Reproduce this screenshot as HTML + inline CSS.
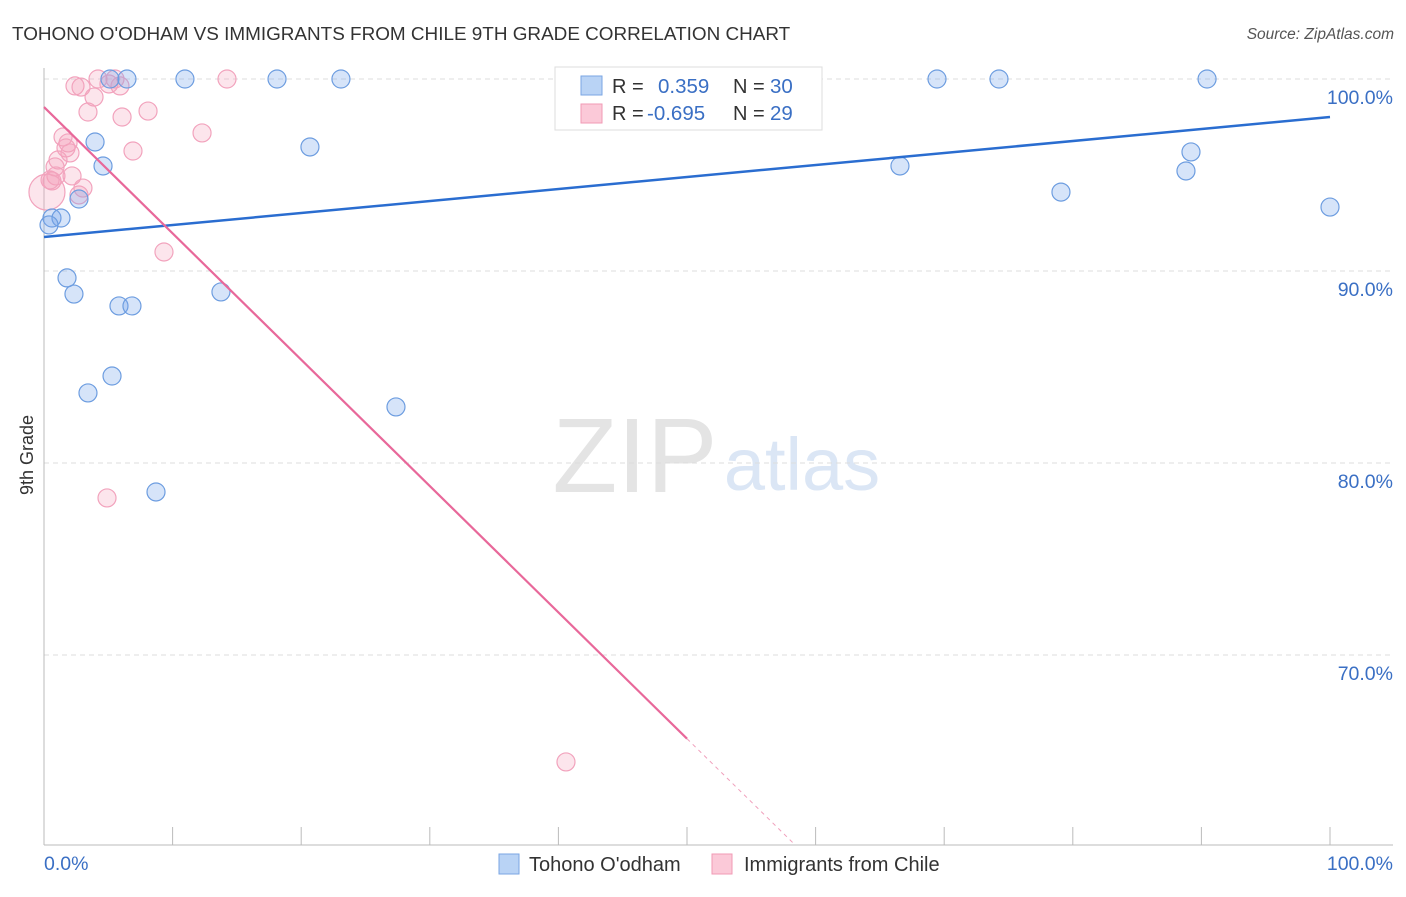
<!DOCTYPE html>
<html><head><meta charset="utf-8"><style>
body{margin:0;background:#fff;font-family:"Liberation Sans",sans-serif}
svg text{font-family:"Liberation Sans",sans-serif}
</style></head><body>
<svg id="c" width="1406" height="892" xmlns="http://www.w3.org/2000/svg">
<text x="12" y="40" font-size="18.9" fill="#333">TOHONO O'ODHAM VS IMMIGRANTS FROM CHILE 9TH GRADE CORRELATION CHART</text>
<text x="1394" y="39" font-size="15.5" fill="#555" font-style="italic" text-anchor="end">Source: ZipAtlas.com</text>
<text transform="translate(33,455) rotate(-90)" font-size="18" fill="#333" text-anchor="middle">9th Grade</text>
<g>
<text x="635" y="492" font-size="106" fill="#e4e4e4" font-family="Liberation Serif" text-anchor="middle">ZIP</text>
<text x="802" y="490" font-size="74" fill="#dbe6f5" text-anchor="middle">atlas</text>
</g>
<g id="grid"></g><g id="axes"></g><g id="marks"></g>
<g>
<rect x="555" y="67" width="267" height="63" fill="#fff" stroke="#ddd"/>
<rect x="581" y="76" width="21" height="19" fill="#b9d3f5" stroke="#7aa6e3"/>
<rect x="581" y="104" width="21" height="19" fill="#fbc9d8" stroke="#f09ab5"/>
<text x="612" y="93" font-size="20" fill="#333">R = </text><text x="658" y="93" font-size="20.5" fill="#3a6fc4">0.359</text>
<text x="733" y="93" font-size="20" fill="#333">N = </text><text x="770" y="93" font-size="20.5" fill="#3a6fc4">30</text>
<text x="612" y="120" font-size="20" fill="#333">R = </text><text x="647" y="120" font-size="20.5" fill="#3a6fc4">-0.695</text>
<text x="733" y="120" font-size="20" fill="#333">N = </text><text x="770" y="120" font-size="20.5" fill="#3a6fc4">29</text>
</g>
<g>
<rect x="499" y="854" width="20" height="20" fill="#b9d3f5" stroke="#7aa6e3"/>
<text x="529" y="871" font-size="20" fill="#333">Tohono O'odham</text>
<rect x="712" y="854" width="20" height="20" fill="#fbc9d8" stroke="#f09ab5"/>
<text x="744" y="871" font-size="20" fill="#333">Immigrants from Chile</text>
</g>
</svg>
<script>
const blueX=[5.13,6.45,10.96,18.12,23.09,47.67,69.44,74.26,90.44,3.97,20.68,4.59,2.72,0.62,1.32,0.39,1.79,2.33,13.76,5.83,6.84,5.29,3.42,27.37,8.71,66.56,79.08,89.19,88.80,100];
const blueY=[100,100,100,100,100,100,100,100,100,96.72,96.46,95.47,93.75,92.76,92.76,92.40,89.64,88.80,88.91,88.18,88.18,84.53,83.65,82.92,78.49,95.47,94.11,96.20,95.21,93.33];
const pinkX=[4.20,5.52,14.23,2.41,2.88,5.05,5.91,3.89,3.42,6.07,8.09,12.29,6.92,1.48,1.87,1.71,2.02,1.09,0.86,0.93,0.62,2.18,3.03,2.72,0.23,9.33,4.90,40.59,0.47];
const pinkY=[100,100,100,99.64,99.58,99.74,99.64,99.06,98.28,98.02,98.33,97.19,96.25,96.98,96.67,96.41,96.15,95.78,95.42,94.95,94.69,94.95,94.32,93.96,94.11,90.99,78.18,64.43,94.74];
const yTicks=[100,90,80,70];
const yTickLabels=["100.0%","90.0%","80.0%","70.0%"];
const xTicks=[0,10,20,30,40,50,60,70,80,90,100];
const blueFit=[91.77,98.02];
const pinkFit=[98.54,-0.658];
const xPx=v=>44+v*12.86, yPx=v=>79+(100-v)*19.2;
const NS="http://www.w3.org/2000/svg";
function mk(p,t,a){const e=document.createElementNS(NS,t);for(const k in a)e.setAttribute(k,a[k]);document.getElementById(p).appendChild(e);return e;}
yTicks.forEach((v,i)=>{
 const g=mk('grid','line',{x1:44,x2:1393,y1:yPx(v),y2:yPx(v),stroke:'#ddd','stroke-dasharray':'5,4'});
 
 
 const t=mk('axes','text',{x:1393,y:yPx(v)+25,'font-size':19.5,fill:'#3a6fc4','text-anchor':'end'});
 t.textContent=yTickLabels[i];
 
 
});
let a=mk('axes','line',{x1:44,x2:44,y1:68,y2:845,stroke:'#bbb'});


a=mk('axes','line',{x1:44,x2:1393,y1:845,y2:845,stroke:'#bbb'});


xTicks.forEach(v=>{const t=mk('axes','line',{x1:xPx(v),x2:xPx(v),y1:827,y2:845,stroke:'#bbb'});
 
 });
let t=mk('axes','text',{x:44,y:870,'font-size':19.5,fill:'#3a6fc4'});t.textContent='0.0%';


t=mk('axes','text',{x:1393,y:870,'font-size':19.5,fill:'#3a6fc4','text-anchor':'end'});t.textContent='100.0%';


pinkX.forEach((x,i)=>{const c=mk('marks','circle',{cx:xPx(x),cy:yPx(pinkY[i]),r:i==24?18:9,fill:'rgba(245,160,188,0.28)',stroke:'#f2a3bd','stroke-width':1.2});
 
 });
blueX.forEach((x,i)=>{const c=mk('marks','circle',{cx:xPx(x),cy:yPx(blueY[i]),r:9,fill:'rgba(120,165,235,0.3)',stroke:'#6d9de0','stroke-width':1.2});
 
 });
let l=mk('marks','line',{x1:xPx(0),y1:yPx(blueFit[0]),x2:xPx(100),y2:yPx(blueFit[1]),stroke:'#2a6dd0','stroke-width':2.5});


const pe=50, pend=(60.1-pinkFit[0])/pinkFit[1];
l=mk('marks','line',{x1:xPx(0),y1:yPx(pinkFit[0]),x2:xPx(pe),y2:yPx(pinkFit[0]+pinkFit[1]*pe),stroke:'#e8689a','stroke-width':2.2});


l=mk('marks','line',{x1:xPx(pe),y1:yPx(pinkFit[0]+pinkFit[1]*pe),x2:xPx(pend),y2:yPx(pinkFit[0]+pinkFit[1]*pend),stroke:'#f0a0bc','stroke-width':1,'stroke-dasharray':'4,4'});


</script>
</body></html>
